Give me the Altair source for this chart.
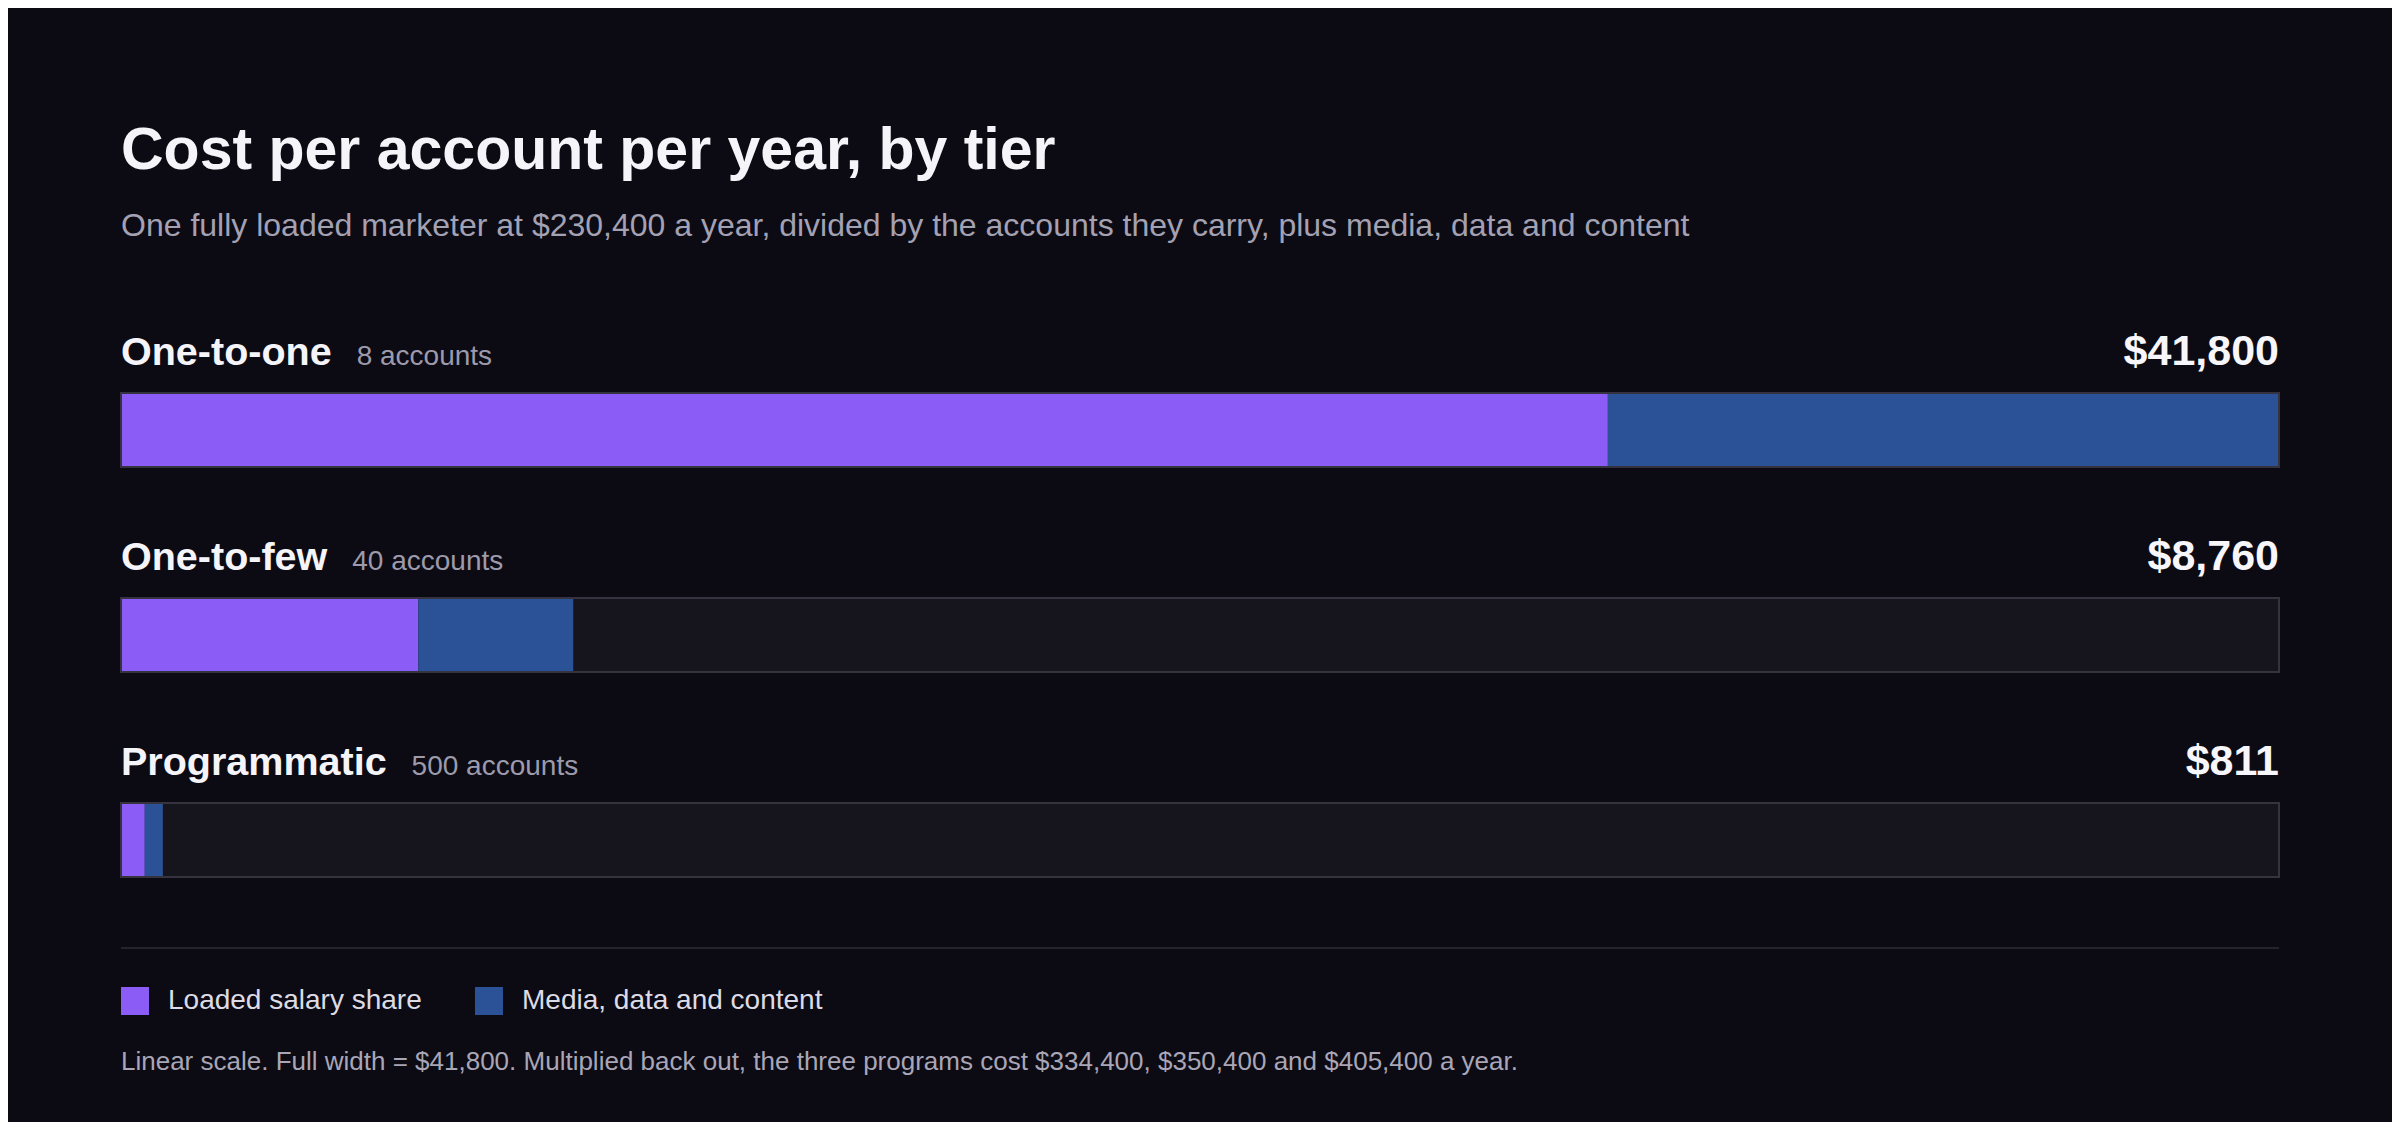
import altair as alt
import pandas as pd

# ---- data ----
tiers = ["One-to-one", "One-to-few", "Programmatic"]
accounts = [8, 40, 500]
salary_share = [28800, 5760, 460.8]
media_cost = [13000, 3000, 350]
total_labels = ["$41,800", "$8,760", "$811"]
components = ["Loaded salary share", "Media, data and content"]
component_colors = ["#8b5cf6", "#2b5297"]

title_text = "Cost per account per year, by tier"
subtitle_text = ("One fully loaded marketer at $230,400 a year, divided by the accounts "
                 "they carry, plus media, data and content")
footnote_text = ("Linear scale. Full width = $41,800. Multiplied back out, the three "
                 "programs cost $334,400, $350,400 and $405,400 a year.")

FULL = 41800

# ---- layout / style ----
W, H = 2158, 780
BG = "#0c0b13"
FONT = "Liberation Sans"
LABEL_SIZE = 39.5
GAP = 25

# Arial/Liberation Sans Bold advance widths (per 1000 em)
_bold = {"O": 778, "n": 611, "e": 556, "-": 333, "t": 333, "o": 611, "f": 333,
         "w": 778, "P": 667, "r": 389, "g": 611, "a": 556, "m": 889, "i": 278,
         "c": 556}


def label_width(s, size):
    return sum(_bold.get(ch, 556) for ch in s) / 1000.0 * size


rows = []
for i, t in enumerate(tiers):
    rows.append({"tier": t, "component": components[0], "value": salary_share[i], "order": 0})
    rows.append({"tier": t, "component": components[1], "value": media_cost[i], "order": 1})
seg = pd.DataFrame(rows)

info = pd.DataFrame({
    "tier": tiers,
    "start": [0] * len(tiers),
    "full": [FULL] * len(tiers),
    "total": total_labels,
    "count": [f"{a} accounts" for a in accounts],
})

x_scale = alt.Scale(domain=[0, FULL], range=[0, W], nice=False, zero=True)
y_scale = alt.Scale(domain=tiers, range=[93, 577], paddingInner=0.639, paddingOuter=0)
Y = alt.Y("tier:N", scale=y_scale, axis=None, sort=tiers)

track = alt.Chart(info).mark_bar(fill="#16151d", cornerRadius=0).encode(
    x=alt.X("start:Q", scale=x_scale, axis=None),
    x2="full:Q",
    y=Y,
)

bars = alt.Chart(seg).mark_bar(cornerRadius=0).encode(
    x=alt.X("value:Q", stack="zero", scale=x_scale, axis=None),
    y=Y,
    color=alt.Color(
        "component:N",
        scale=alt.Scale(domain=components, range=component_colors),
        legend=alt.Legend(
            orient="none", legendX=0, legendY=687, direction="horizontal",
            title=None, symbolType="square", symbolSize=784, symbolStrokeWidth=0,
            symbolOpacity=1, labelFont=FONT, labelFontSize=28, labelColor="#dddbe5",
            labelOffset=19, columnPadding=53, padding=0, labelLimit=0,
        ),
    ),
    order=alt.Order("order:Q"),
)

outline = alt.Chart(info).mark_bar(fillOpacity=0, stroke="#34333f", strokeWidth=2).encode(
    x=alt.X("start:Q", scale=x_scale, axis=None),
    x2="full:Q",
    y=Y,
)

names = alt.Chart(info).mark_text(
    align="left", baseline="alphabetic", dy=-65, font=FONT, fontSize=LABEL_SIZE,
    fontWeight="bold", color="#f5f4f9",
).encode(x=alt.datum(0, scale=x_scale), y=Y, text="tier:N")

values = alt.Chart(info).mark_text(
    align="right", baseline="alphabetic", dy=-65, font=FONT, fontSize=43,
    fontWeight="bold", color="#f7f6fb",
).encode(x=alt.datum(FULL), y=Y, text="total:N")

count_layers = []
for t in tiers:
    count_layers.append(
        alt.Chart(info).transform_filter(alt.datum.tier == t).mark_text(
            align="left", baseline="alphabetic", dy=-65,
            dx=label_width(t, LABEL_SIZE) + GAP,
            font=FONT, fontSize=28, color="#9d9aac",
        ).encode(x=alt.datum(0), y=Y, text="count:N")
    )

sep = alt.Chart(info).mark_rule(color="#25242d", strokeWidth=2).encode(
    x=alt.value(0), x2=alt.value(W), y=alt.value(648)
)

note = alt.Chart(pd.DataFrame({"note": [footnote_text]})).mark_text(
    align="left", baseline="middle", font=FONT, fontSize=26, color="#a9a6b7",
).encode(x=alt.value(0), y=alt.value(762), text="note:N")

chart = alt.layer(track, bars, outline, names, values, *count_layers, sep, note).properties(
    width=W,
    height=H,
    background=BG,
    padding={"left": 113, "right": 113, "top": 292, "bottom": 42},
    autosize=alt.AutoSizeParams(type="none"),
    title=alt.TitleParams(
        text=title_text,
        subtitle=subtitle_text,
        anchor="start",
        frame="group",
        font=FONT,
        fontSize=59,
        fontWeight="bold",
        color="#f5f4f9",
        subtitleFont=FONT,
        subtitleFontSize=32,
        subtitleColor="#a4a1b3",
        subtitlePadding=30,
        offset=58,
    ),
).configure_view(stroke=None)

chart.save("out.html", embed_options={"renderer": "svg", "actions": False})
